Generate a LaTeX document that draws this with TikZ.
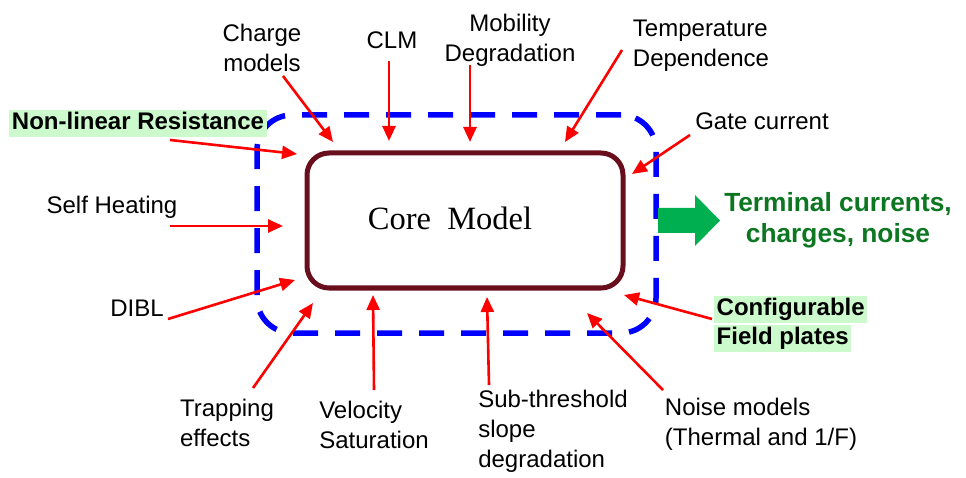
\documentclass[tikz,border=0pt]{standalone}
\usepackage{fontspec}
\setmainfont{Liberation Sans}
\newfontfamily\corefont{Liberation Serif}
\usetikzlibrary{arrows.meta}
\definecolor{maroon}{RGB}{105,14,28}
\definecolor{hlgreen}{RGB}{204,250,204}
\definecolor{txtgreen}{RGB}{12,118,32}
\definecolor{arrowgreen}{RGB}{0,176,80}
\tikzset{
  lbl/.style={inner sep=0pt, align=center, font=\fontsize{24}{30}\selectfont},
  lbll/.style={inner sep=0pt, align=left, font=\fontsize{24}{30}\selectfont},
  hl/.style={fill=hlgreen, inner xsep=2.5pt, inner ysep=2pt, text height=18pt, text depth=5pt, font=\fontsize{24}{30}\selectfont\bfseries},
  redarrow/.style={draw=red, line width=2.6pt, -{Triangle[length=15pt,width=13pt]}},
  corebox/.style={draw=maroon, line width=5pt, rounded corners=22pt, minimum width=316pt, minimum height=135pt, inner sep=0pt},
  envbox/.style={draw=blue, line width=5.5pt, dash pattern=on 25pt off 17pt, rounded corners=35pt, minimum width=399pt, minimum height=218pt, inner sep=0pt},
}
\begin{document}
\begin{tikzpicture}[x=1pt,y=-1pt]
\useasboundingbox (0,0) rectangle (966,478);
% boxes
\node[envbox] (env) at (456.5,224) {};
\node[corebox] (core) at (465,220.5) {};
\node[inner sep=0pt, font=\corefont\fontsize{32.5}{36}\selectfont] (coretext) at (450,218) {Core\ \ Model};
% output arrow
\fill[arrowgreen] (658,208) -- (695,208) -- (695,195) -- (720,220.5) -- (695,246) -- (695,233) -- (658,233) -- cycle;
\node[inner sep=0pt, align=center, text=txtgreen, font=\fontsize{26.3}{31}\selectfont\bfseries] (out) at (838,220) {Terminal currents,\\charges, noise};
% labels
\node[lbl] (charge) at (262,48) {Charge\\models};
\node[lbl] (clm) at (392,40) {CLM};
\node[lbl] (mob) at (510,40) {Mobility\\Degradation};
\node[lbll] (temp) at (701,46) {Temperature\\Dependence};
\node[lbl] (gate) at (762,121) {Gate current};
\node[hl] (nonlin) at (138,123.5) {Non-linear Resistance};
\node[lbl] (self) at (112,207.5) {Self Heating};
\node[lbl] (dibl) at (137,308.5) {DIBL};
\node[lbll] (trap) at (227,422.5) {Trapping\\effects};
\node[lbll] (vel) at (374,425) {Velocity\\Saturation};
\node[lbll] (sub) at (553,431) {Sub-threshold\\slope\\degradation};
\node[lbll] (noise) at (761,424) {Noise models\\(Thermal and 1/F)};
\node[hl, anchor=west] (conf1) at (714,309) {Configurable};
\node[hl, anchor=west] (conf2) at (714,338) {Field plates};
% arrow end points
\coordinate (a1) at (283,76);  \coordinate (b1) at (333,142);
\coordinate (a2) at (389,61);  \coordinate (b2) at (389,141);
\coordinate (a3) at (470,65);  \coordinate (b3) at (470,142);
\coordinate (a4) at (622,50);  \coordinate (b4) at (565,142);
\coordinate (a5) at (690,135); \coordinate (b5) at (632,174);
\coordinate (a6) at (170,140); \coordinate (b6) at (297,154);
\coordinate (a7) at (170,226); \coordinate (b7) at (283,226);
\coordinate (a8) at (168,319); \coordinate (b8) at (295,280);
\coordinate (a9) at (253,388); \coordinate (b9) at (313,303);
\coordinate (a10) at (374,390); \coordinate (b10) at (373,295);
\coordinate (a11) at (489,385); \coordinate (b11) at (487,297);
\coordinate (a12) at (663,390); \coordinate (b12) at (587,313);
\coordinate (a13) at (712,319); \coordinate (b13) at (624,295);
\foreach \i in {1,...,13} { \draw[redarrow] (a\i) -- (b\i); }
\end{tikzpicture}
\end{document}
